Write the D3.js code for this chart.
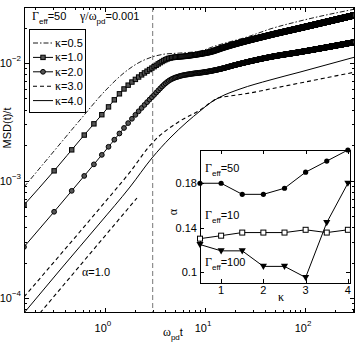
<!DOCTYPE html>
<html lang="en">
<head>
<meta charset="UTF-8">
<title>MSD(t)/t</title>
<script src="https://d3js.org/d3.v7.min.js"></script>
<style>
  body { margin: 0; background: #fff; }
  svg { display: block; font-family: "Liberation Sans", Arial, sans-serif; font-size: 11px; }
  .gr { font-family: "Liberation Serif", "Times New Roman", serif; }
</style>
</head>
<body>
<svg width="359" height="343"></svg>
<script>
// main panel: [omega_pd t, MSD(t)/t]
const kappa05 = [[0.155,0.00088],[0.282,0.00162],[0.562,0.00327],[1.0,0.00578],[1.585,0.00838],[2.239,0.0102],[2.951,0.01125],[3.981,0.01193],[5.623,0.01216],[8.913,0.01265],[12.59,0.01395],[28.18,0.01698],[44.67,0.01948],[89.13,0.0228],[316.2,0.0288]];
const kappa10 = [[0.155,0.000619],[0.309,0.001205],[0.562,0.00221],[1.0,0.0039],[1.585,0.00613],[2.239,0.00775],[2.951,0.00907],[4.467,0.01103],[6.607,0.01147],[8.913,0.01193],[11.22,0.01241],[14.79,0.01342],[44.67,0.01731],[89.13,0.01985],[316.2,0.0256]];
const kappa20 = [[0.155,0.000272],[0.309,0.00054],[0.562,0.00099],[1.0,0.00178],[1.778,0.00321],[2.951,0.00513],[4.467,0.00717],[5.623,0.00775],[7.079,0.00806],[10.0,0.00838],[14.13,0.00889],[19.95,0.00962],[44.67,0.01125],[89.13,0.01241],[316.2,0.01509]];
const kappa30 = [[0.155,0.000102],[0.355,0.000232],[0.891,0.000583],[1.778,0.00118],[2.951,0.00208],[5.623,0.00321],[8.913,0.00398],[11.22,0.004566],[13.49,0.00504],[17.78,0.00524],[28.18,0.00556],[44.67,0.00601],[89.13,0.00676],[316.2,0.00838]];
const kappa40 = [[0.155,0.0000745],[0.355,0.000173],[0.891,0.000435],[1.778,0.00088],[2.951,0.001555],[4.467,0.0023],[6.607,0.00315],[8.913,0.0039],[11.22,0.004566],[14.13,0.00513],[22.39,0.00601],[44.67,0.00717],[89.13,0.00838],[316.2,0.01125]];
const slopeOne = [[0.224,0.0000745],[2.089,0.00071]];
const markStep = 0.155;   // time step between plotted samples
const tMark = 3;          // vertical dashed line
const legendLabels = ["κ=0.5","κ=1.0","κ=2.0","κ=3.0","κ=4.0"];

// inset: alpha vs kappa
const kappaIn = [0.5,1,1.5,2,2.5,3,3.5,4];
const g50 = [0.18,0.18,0.170,0.170,0.1755,0.19,0.20,0.21];
const g10 = [0.130,0.1327,0.1355,0.1355,0.1355,0.138,0.1355,0.138];
const g100 = [0.1247,0.119,0.119,0.105,0.105,0.095,0.1445,0.18];
const insetYTicks = [0.1,0.14,0.18];
const insetXTicks = [1,2,3,4];

const svg = d3.select("svg");
const L = 24, R = 355, T = 7, B = 313;
const x = d3.scaleLog().domain([0.155, 316.2]).range([L, R]);
const y = d3.scaleLog().domain([7.45e-5, 0.03]).range([B, T]);

svg.append("defs").append("clipPath").attr("id", "clip")
  .append("rect").attr("x", L).attr("y", T).attr("width", R - L).attr("height", B - T);

// ticks (inward, all four sides)
const xMajor = [1, 10, 100], yMajor = [1e-4, 1e-3, 1e-2];
const minors = (lo, hi, dom) => {
  const out = [];
  for (let e = lo; e <= hi; e++) for (let i = 2; i <= 9; i++) {
    const v = i * Math.pow(10, e);
    if (v >= dom[0] && v <= dom[1]) out.push(v);
  }
  return out;
};
const xMinor = minors(-1, 2, x.domain()), yMinor = minors(-5, -2, y.domain());
const tk = svg.append("g").attr("stroke", "#000").attr("stroke-width", 1);
xMajor.concat(xMinor).forEach(v => {
  const len = xMajor.includes(v) ? 5 : 3, px = Math.round(x(v)) + 0.5;
  tk.append("line").attr("x1", px).attr("x2", px).attr("y1", B).attr("y2", B - len);
  tk.append("line").attr("x1", px).attr("x2", px).attr("y1", T).attr("y2", T + len);
});
yMajor.concat(yMinor).forEach(v => {
  const len = yMajor.includes(v) ? 5 : 3, py = Math.round(y(v)) + 0.5;
  tk.append("line").attr("y1", py).attr("y2", py).attr("x1", L).attr("x2", L + len);
  tk.append("line").attr("y1", py).attr("y2", py).attr("x1", R).attr("x2", R - len);
});

// tick labels
const xExp = ["0", "1", "2"];
xMajor.forEach((v, i) => {
  const t = svg.append("text").attr("x", x(v) - 2).attr("y", 332).attr("text-anchor", "middle");
  t.append("tspan").text("10");
  t.append("tspan").attr("dy", -6).attr("font-size", 8).text(xExp[i]);
});
const yExp = ["−4", "−3", "−2"];
yMajor.forEach((v, i) => {
  const t = svg.append("text").attr("x", 21).attr("y", y(v) + 4).attr("text-anchor", "end");
  t.append("tspan").text("10");
  t.append("tspan").attr("dy", -6).attr("font-size", 8).text(yExp[i]);
});

// axis labels
svg.append("text").attr("transform", "translate(11,128) rotate(-90)")
  .attr("text-anchor", "middle").text("MSD(t)/t");
const xl = svg.append("text").attr("x", 163).attr("y", 336);
xl.append("tspan").attr("class", "gr").attr("font-size", 12).text("ω");
xl.append("tspan").attr("dy", 4).attr("font-size", 8).text("pd");
xl.append("tspan").attr("dy", -4).text("t");

// vertical marker
svg.append("line").attr("x1", x(tMark)).attr("x2", x(tMark)).attr("y1", T).attr("y2", B)
  .attr("stroke", "#777").attr("stroke-width", 1).attr("stroke-dasharray", "5,3");

const line = d3.line().x(d => x(d[0])).y(d => y(d[1])).curve(d3.curveMonotoneX);
const plot = svg.append("g").attr("clip-path", "url(#clip)");

const styles = [
  {data: kappa05, dash: "5,2,1.5,2", w: 0.9},
  {data: kappa10, dash: null, w: 1, marker: "square"},
  {data: kappa20, dash: null, w: 1, marker: "circle"},
  {data: kappa30, dash: "4,3", w: 1.1},
  {data: kappa40, dash: null, w: 1}
];

function drawMarker(g, kind, cx, cy) {
  if (kind === "square")
    g.append("rect").attr("x", cx - 2.2).attr("y", cy - 2.2).attr("width", 4.4).attr("height", 4.4);
  else
    g.append("circle").attr("cx", cx).attr("cy", cy).attr("r", 2.4);
}

styles.forEach(s => {
  const p = plot.append("path").datum(s.data).attr("d", line)
    .attr("fill", "none").attr("stroke", "#000").attr("stroke-width", s.w)
    .attr("stroke-dasharray", s.dash);
  if (s.marker) {
    // place samples along the drawn curve at equal steps in t
    const node = p.node(), len = node.getTotalLength(), pts = [];
    for (let i = 0; i <= 3000; i++) { const q = node.getPointAtLength(len * i / 3000); pts.push([q.x, q.y]); }
    const bis = d3.bisector(d => d[0]).left;
    const mg = plot.append("g").attr("fill", "#555").attr("stroke", "#000").attr("stroke-width", 1);
    for (let k = 1; k * markStep <= x.domain()[1]; k++) {
      const px = x(k * markStep);
      let j = Math.max(1, Math.min(pts.length - 1, bis(pts, px)));
      const a = pts[j - 1], b = pts[j], f = b[0] === a[0] ? 0 : (px - a[0]) / (b[0] - a[0]);
      drawMarker(mg, s.marker, px, a[1] + f * (b[1] - a[1]));
    }
  }
});

plot.append("path").datum(slopeOne).attr("d", d3.line().x(d => x(d[0])).y(d => y(d[1])))
  .attr("fill", "none").attr("stroke", "#000").attr("stroke-width", 1.1).attr("stroke-dasharray", "4,3");
const al = svg.append("text").attr("x", 82).attr("y", 276);
al.append("tspan").attr("class", "gr").attr("font-size", 12).text("α");
al.append("tspan").text("=1.0");

// frame
svg.append("rect").attr("x", L + 0.5).attr("y", T + 0.5).attr("width", R - L - 1).attr("height", B - T - 1)
  .attr("fill", "none").attr("stroke", "#000").attr("stroke-width", 1);

// top annotation
const ann = svg.append("text").attr("x", 32).attr("y", 20);
ann.append("tspan").attr("class", "gr").attr("font-size", 12).text("Γ");
ann.append("tspan").attr("dy", 4).attr("font-size", 8).text("eff");
ann.append("tspan").attr("dy", -4).text("=50");
const ann2 = svg.append("text").attr("x", 80).attr("y", 20);
ann2.append("tspan").attr("class", "gr").attr("font-size", 12).text("γ/ω");
ann2.append("tspan").attr("dy", 4).attr("font-size", 8).text("pd");
ann2.append("tspan").attr("dy", -4).text("=0.001");

// legend
const lg = svg.append("g");
lg.append("rect").attr("x", 29.5).attr("y", 29.5).attr("width", 56).attr("height", 83)
  .attr("fill", "#fff").attr("stroke", "#000");
styles.forEach((s, i) => {
  const ly = 43 + i * 14.4;
  lg.append("line").attr("x1", 33).attr("x2", 53).attr("y1", ly).attr("y2", ly)
    .attr("stroke", "#000").attr("stroke-width", s.w).attr("stroke-dasharray", s.dash);
  if (s.marker) drawMarker(lg.append("g").attr("fill", "#555").attr("stroke", "#000"), s.marker, 43, ly);
  const t = lg.append("text").attr("x", 55).attr("y", ly + 4);
  t.append("tspan").attr("class", "gr").attr("font-size", 12).text(legendLabels[i][0]);
  t.append("tspan").text(legendLabels[i].slice(1));
});

// inset
const iL = 200, iR = 350, iT = 150, iB = 283;
const xi = d3.scaleLinear().domain([0.5, 4.05]).range([iL, iR]);
const yi = d3.scaleLinear().domain([0.09, 0.21]).range([iB, iT]);
const ins = svg.append("g");
ins.append("rect").attr("x", iL + 0.5).attr("y", iT + 0.5).attr("width", iR - iL).attr("height", iB - iT)
  .attr("fill", "#fff").attr("stroke", "#000").attr("stroke-width", 1);
insetXTicks.forEach(v => {
  const px = Math.round(xi(v)) + 0.5;
  ins.append("line").attr("x1", px).attr("x2", px).attr("y1", iB).attr("y2", iB - 4).attr("stroke", "#000");
  ins.append("line").attr("x1", px).attr("x2", px).attr("y1", iT).attr("y2", iT + 4).attr("stroke", "#000");
  ins.append("text").attr("x", xi(v)).attr("y", 294).attr("text-anchor", "middle").text(v);
});
insetYTicks.forEach(v => {
  const py = Math.round(yi(v)) + 0.5;
  ins.append("line").attr("y1", py).attr("y2", py).attr("x1", iL).attr("x2", iL + 4).attr("stroke", "#000");
  ins.append("line").attr("y1", py).attr("y2", py).attr("x1", iR).attr("x2", iR - 4).attr("stroke", "#000");
  ins.append("text").attr("x", 197).attr("y", yi(v) + 4).attr("text-anchor", "end").text(v);
});
ins.append("text").attr("class", "gr").attr("font-size", 12).attr("x", 281).attr("y", 301)
  .attr("text-anchor", "middle").text("κ");
ins.append("text").attr("class", "gr").attr("font-size", 12)
  .attr("transform", "translate(177,212) rotate(-90)").attr("text-anchor", "middle").text("α");

const iline = d3.line().x((d, i) => xi(kappaIn[i])).y(d => yi(d));
[g50, g10, g100].forEach(arr => {
  ins.append("path").datum(arr).attr("d", iline).attr("fill", "none").attr("stroke", "#000").attr("stroke-width", 1);
});
ins.selectAll(".c50").data(g50).join("circle").attr("cx", (d, i) => xi(kappaIn[i])).attr("cy", d => yi(d))
  .attr("r", 2.6).attr("fill", "#000");
ins.selectAll(".s10").data(g10).join("rect")
  .attr("x", (d, i) => xi(kappaIn[i]) - 2.5).attr("y", d => yi(d) - 2.5).attr("width", 5).attr("height", 5)
  .attr("fill", "#fff").attr("stroke", "#000");
const tri = d3.symbol().type(d3.symbolTriangle).size(22);
ins.selectAll(".t100").data(g100).join("path").attr("d", tri)
  .attr("transform", (d, i) => `translate(${xi(kappaIn[i])},${yi(d) - 0.5}) rotate(180)`).attr("fill", "#000");

const gLab = [["50", 172], ["10", 219], ["100", 266]];
gLab.forEach(g => {
  const t = ins.append("text").attr("x", 205).attr("y", g[1]);
  t.append("tspan").attr("class", "gr").attr("font-size", 12).text("Γ");
  t.append("tspan").attr("dy", 4).attr("font-size", 8).text("eff");
  t.append("tspan").attr("dy", -4).text("=" + g[0]);
});
</script>
</body>
</html>
